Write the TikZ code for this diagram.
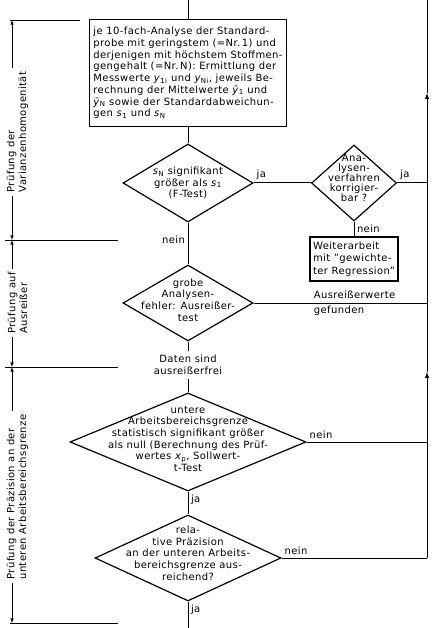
\documentclass[tikz,border=0pt]{standalone}
\usepackage{fontspec}
\setmainfont{DejaVu Sans}[LetterSpace=4]
\usepackage{tikz}
\usetikzlibrary{shapes.geometric}
\newcommand{\varsub}[2]{\textit{#1}\textsubscript{#2}}

\begin{document}
\begin{tikzpicture}[x=1pt,y=1pt,>=latex,node distance=110pt,
  line width=1pt,font=\fontsize{10}{11.7}\selectfont,
  box node/.style={rectangle,draw,line width=1.4pt,align=left,inner xsep=4pt,inner ysep=0pt},
  decision node/.style={diamond,draw,line width=1.2pt,inner sep=0pt},
  dtext/.style={align=center,inner sep=0pt},
  side node/.style={rotate=90,align=left,inner sep=3pt},
  dim line/.style={line width=0.6pt}]

  \useasboundingbox (0,0) rectangle (432,-628);

  \coordinate (top) at (188,0);
  \coordinate (bottom) at (188,-628);
  \coordinate (rtop) at (427,0);

  \node[box node,minimum width=195pt,minimum height=107pt] (box) at (188,-73)
    {je 10-fach-Analyse der Standard-\\
     probe mit geringstem (=Nr.\,1) und\\
     derjenigen mit höchstem Stoffmen-\\
     gengehalt (=Nr.\,N): Ermittlung der\\
     Messwerte \varsub{y}{1i} und \varsub{y}{Ni}, jeweils Be-\\
     rechnung der Mittelwerte \varsub{ȳ}{1} und\\
     \varsub{ȳ}{N} sowie der Standardabweichun-\\
     gen \varsub{s}{1} und \varsub{s}{N}};

  \node[decision node,minimum width=130pt,minimum height=78pt,
    label={[dtext]center:{\varsub{s}{N} signifikant\\größer als \varsub{s}{1}\\(F-Test)}}]
    (d1) [below of=box] {};
  \node[decision node,minimum width=85pt,minimum height=76pt,node distance=166pt,
    label={[dtext,yshift=5pt,font=\fontsize{10}{10}\selectfont]center:{Ana-\\lysen-\\verfahren\\korrigier-\\bar ?}}]
    (d2) [right of=d1] {};
  \node[box node,minimum width=85pt,inner xsep=3pt,minimum height=44pt,node distance=76pt,
    font=\fontsize{10}{12.5}\selectfont]
    (weiter) [below of=d2] {Weiterarbeit\\mit "gewichte-\\ter Regression"};
  \node[decision node,minimum width=130pt,minimum height=76pt,node distance=120pt,
    label={[dtext,yshift=3pt]center:{grobe\\Analysen-\\fehler: Ausreißer-\\test}}]
    (d3) [below of=d1] {};
  \node[align=center,node distance=62pt] (daten) [below of=d3] {Daten sind\\ausreißerfrei};
  \node[decision node,minimum width=236pt,minimum height=98pt,node distance=139pt,
    label={[dtext,yshift=3pt]center:{untere\\Arbeitsbereichsgrenze\\statistisch signifikant größer\\als null (Berechnung des Prüf-\\wertes \varsub{x}{p}, Sollwert-\\t-Test}}]
    (d4) [below of=d3] {};
  \node[decision node,minimum width=186pt,minimum height=86pt,node distance=116pt,
    label={[dtext,yshift=5pt]center:{rela-\\tive Präzision\\an der unteren Arbeits-\\bereichsgrenze aus-\\reichend?}}]
    (d5) [below of=d4] {};

  \coordinate (r2) at (d2.east -| rtop);
  \coordinate (r3) at (d3.east -| rtop);
  \coordinate (r4) at (d4.east -| rtop);
  \coordinate (r5) at (d5.east -| rtop);
  \coordinate (arr1) at (427,-93);
  \coordinate (arr2) at (427,-372);

  \path[every node/.style={inner sep=2.5pt}]
    (top) edge (box)
    (box) edge (d1)
    (d1) edge node[above right,pos=0] (ja1) {ja} (d2)
         edge node[left,pos=0.42] (nein1) {nein} (d3)
    (d2) edge node[above right,pos=0] (ja2) {ja} (r2)
         edge node[below right,pos=0] (nein2) {nein} (weiter)
    (d3) edge node[anchor=west,pos=0.33,align=left] (ausr) {Ausreißerwerte\\[3pt]gefunden} (r3)
         edge (daten)
    (daten) edge (d4)
    (d4) edge node[above right,pos=0] (nein3) {nein} (r4)
         edge node[below right,pos=0] (ja3) {ja} (d5)
    (d5) edge node[above right,pos=0] (nein4) {nein} (r5)
         edge node[below right,pos=0] (ja4) {ja} (bottom);

  \draw[->] (r5) -- (arr2);
  \draw[->] (arr2) -- (arr1);
  \draw (arr1) -- (rtop);

  % Abschnitte links
  \coordinate (dim0) at (12,-20);
  \coordinate (dim1) at (12,-240);
  \coordinate (dim2) at (12,-367);
  \coordinate (dim3) at (12,-623);

  \node[side node] (sec1) at (17.5,-132) {Prüfung der\\Varianzenhomogenität};
  \node[side node] (sec2) at (17.5,-303) {Prüfung auf\\Ausreißer};
  \node[side node] (sec3) at (17.5,-497) {Prüfung der Präzision an der\\unteren Arbeitsbereichsgrenze};

  \draw[dim line,->] (sec1.east -| dim0) -- (dim0);
  \draw[dim line,->] (sec1.west -| dim0) -- (dim1);
  \draw[dim line,->] (sec2.east -| dim0) -- (dim1);
  \draw[dim line,->] (sec2.west -| dim0) -- (dim2);
  \draw[dim line,->] (sec3.east -| dim0) -- (dim2);
  \draw[dim line,->] (sec3.west -| dim0) -- (dim3);

  \draw[dim line] (10,-20) -- (80,-20);
  \draw[dim line] (5,-240) -- (118,-240);
  \draw[dim line] (5,-367) -- (118,-367);
  \draw[dim line] (10,-623) -- (118,-623);
\end{tikzpicture}
\end{document}
